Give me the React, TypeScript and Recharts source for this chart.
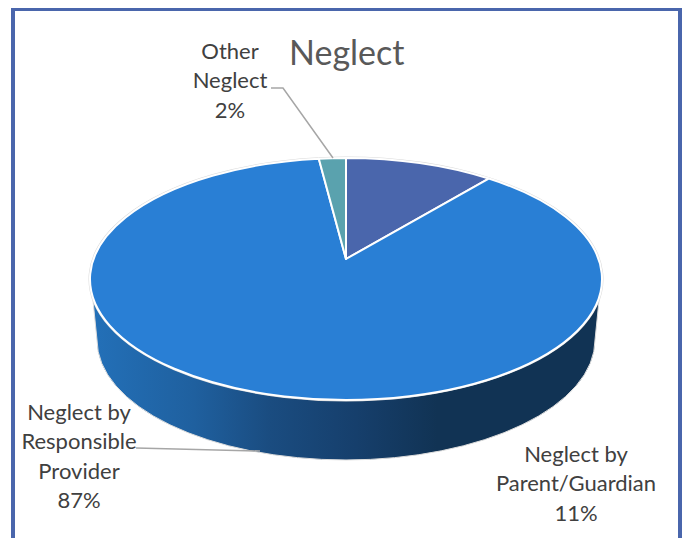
import { PieChart, Pie } from "recharts";

const categories = ["Neglect by Parent/Guardian", "Neglect by Responsible Provider", "Other Neglect"];
const shares = [11, 87, 2];
const colors = ["#4A66AC", "#297FD5", "#5AA2AE"];
const labelLines = [
  ["Neglect by", "Parent/Guardian"],
  ["Neglect by", "Responsible", "Provider"],
  ["Other", "Neglect"],
];

const data = categories.map((name, i) => ({ name, value: shares[i], fill: colors[i] }));

// the tilted disc: rx comes from the pie radius, the rest squashes it into perspective
const TILT = 121 / 256;
const APEX_LIFT = 20 / 256;
const WALL_DROP = 61;
const WALL_INSET = 7;

// where each label block and its leader line sit
const labelSpots = [
  { x: 576, y: 453, leader: "" },
  { x: 79, y: 411, leader: "M136,448 L260,451" },
  { x: 230, y: 50, leader: "M271,88 L283,88 L333,158" },
];
const LINE_GAP = 29.5;

function rimPoint(cx: number, cy: number, rx: number, angle: number) {
  const a = ((90 - angle) * Math.PI) / 180;
  const ry = rx * TILT;
  const lift = rx * APEX_LIFT;
  const c = lift / ry;
  const e = rx * Math.sqrt(1 - c * c);
  const d = c * Math.cos(a) + 1;
  return {
    x: cx + (e * Math.sin(a)) / d,
    y: cy - (ry * Math.cos(a) + lift) / d,
  };
}

function TiltedSlice(props: any) {
  const { cx, cy, outerRadius: rx, startAngle, endAngle, fill, index } = props;
  const ry = rx * TILT;
  const apexY = cy - rx * APEX_LIFT;
  const a = rimPoint(cx, cy, rx, startAngle);
  const b = rimPoint(cx, cy, rx, endAngle);
  const phi = (p: { x: number; y: number }) => Math.atan2((p.x - cx) / rx, (cy - p.y) / ry);
  let span = phi(b) - phi(a);
  if (span < 0) span += Math.PI * 2;
  const large = span > Math.PI ? 1 : 0;
  const rim = `M${a.x},${a.y} A${rx},${ry} 0 ${large} 1 ${b.x},${b.y}`;

  // only the big slice faces the viewer, so the wall belongs to it
  const hasWall = startAngle - endAngle > 180;
  const wallTop = cy + 17;
  const topDx = rx * Math.sqrt(1 - (17 * 17) / (ry * ry));
  const bottomRx = rx - WALL_INSET;
  const bottomRy = ry - 1;
  const wall = `M${cx - topDx},${wallTop} L${cx - bottomRx},${cy + WALL_DROP}
    A${bottomRx},${bottomRy} 0 0 0 ${cx + bottomRx},${cy + WALL_DROP}
    L${cx + topDx},${wallTop} A${rx},${ry} 0 0 1 ${cx - topDx},${wallTop} Z`;

  return (
    <g key={index}>
      {hasWall && <path d={wall} fill="url(#wallShade)" stroke="#dcdcdc" strokeWidth={1} />}
      <path d={rim} fill="none" stroke="#dadada" strokeWidth={3} />
      <path
        d={`M${cx},${apexY} L${a.x},${a.y} A${rx},${ry} 0 ${large} 1 ${b.x},${b.y} Z`}
        fill={fill}
        stroke="#fff"
        strokeWidth={2}
        strokeLinejoin="round"
      />
    </g>
  );
}

function SliceLabel(props: any) {
  const { index, value } = props;
  const spot = labelSpots[index];
  const lines = [...labelLines[index], `${value}%`];
  return (
    <g>
      {spot.leader && <path d={spot.leader} fill="none" stroke="#a6a6a6" strokeWidth={1.5} />}
      <text
        x={spot.x}
        y={spot.y}
        textAnchor="middle"
        fontFamily="Lato, sans-serif"
        fontSize={22}
        fill="#404040"
      >
        {lines.map((line, i) => (
          <tspan key={i} x={spot.x} y={spot.y + i * LINE_GAP} dominantBaseline="central">
            {line}
          </tspan>
        ))}
      </text>
    </g>
  );
}

export default function App() {
  return (
    <div
      style={{
        position: "absolute",
        left: 0,
        top: 0,
        width: 687,
        height: 538,
        overflow: "hidden",
        background: "#fff",
      }}
    >
      <div
        style={{
          position: "absolute",
          left: 11,
          top: 8,
          width: 663,
          height: 600,
          border: "4px solid #4A66AC",
          borderTopWidth: 3,
        }}
      />
      <div
        style={{
          position: "absolute",
          left: 289,
          top: 30,
          fontFamily: "Lato, sans-serif",
          fontSize: 34,
          lineHeight: "44px",
          color: "#595959",
        }}
      >
        Neglect
      </div>
      <div style={{ position: "absolute", left: 0, top: 0 }}>
        <svg width={0} height={0} style={{ position: "absolute" }}>
          <defs>
            <linearGradient id="wallShade" x1="0" y1="0" x2="1" y2="0">
              <stop offset="0%" stopColor="#2370B8" />
              <stop offset="20%" stopColor="#1F609F" />
              <stop offset="35%" stopColor="#1A4C80" />
              <stop offset="52%" stopColor="#163F6C" />
              <stop offset="68%" stopColor="#113354" />
              <stop offset="100%" stopColor="#113354" />
            </linearGradient>
          </defs>
        </svg>
        <PieChart width={687} height={538} margin={{ top: 0, right: 0, bottom: 0, left: 0 }}>
          <Pie
            data={data}
            dataKey="value"
            nameKey="name"
            cx={346}
            cy={279}
            outerRadius={256}
            startAngle={90}
            endAngle={-270}
            stroke="none"
            shape={TiltedSlice}
            label={SliceLabel}
            labelLine={false}
            isAnimationActive={false}
          />
        </PieChart>
      </div>
    </div>
  );
}
